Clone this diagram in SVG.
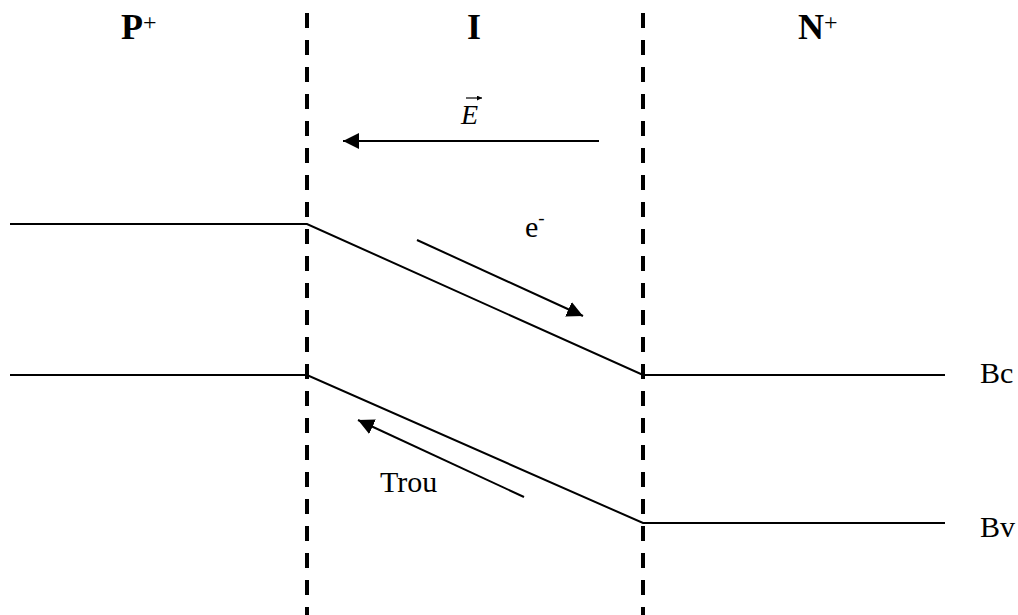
<svg xmlns="http://www.w3.org/2000/svg" width="1018" height="615" viewBox="0 0 1018 615">
<style>
.t{font-family:"Liberation Serif","Times New Roman",serif;fill:#000}
.b{font-weight:bold;font-size:36px}
.r{font-size:30px}
.ln{stroke:#000;stroke-width:2;fill:none}
.dash{stroke:#000;stroke-width:4;stroke-dasharray:15 12;fill:none}
</style>
<defs>
<marker id="ah" viewBox="0 0 16 16" refX="16" refY="8" markerWidth="16" markerHeight="16" markerUnits="userSpaceOnUse" orient="auto">
<path d="M0,0 L16,8 L0,16 Z" fill="#000"/>
</marker>
<marker id="sa" viewBox="0 0 6 6" refX="6" refY="3" markerWidth="5" markerHeight="5" markerUnits="userSpaceOnUse" orient="auto">
<path d="M0,0 L6,3 L0,6 Z" fill="#000"/>
</marker>
</defs>
<g id="regions">
<line class="dash" x1="307" y1="13" x2="307" y2="615"/>
<line class="dash" x1="643" y1="13" x2="643" y2="615"/>
</g>
<g id="label-P"><text class="t b" x="121" y="39">P<tspan font-size="24" font-weight="normal" dy="-9">+</tspan></text></g>
<g id="label-I"><text class="t b" x="467" y="39">I</text></g>
<g id="label-N"><text class="t b" x="798" y="39">N<tspan font-size="24" font-weight="normal" dy="-9">+</tspan></text></g>
<g id="bands">
<polyline class="ln" points="10,224 307,224 643,375 945,375"/>
<polyline class="ln" points="10,375 307,375 643,523 945,523"/>
</g>
<g id="label-Bc"><text class="t r" x="980" y="383">Bc</text></g>
<g id="label-Bv"><text class="t r" x="980" y="537">Bv</text></g>
<g id="connectors">
<line class="ln" x1="599" y1="141" x2="343" y2="141" marker-end="url(#ah)"/>
<line class="ln" x1="417" y1="240" x2="583" y2="316" marker-end="url(#ah)"/>
<line class="ln" x1="524" y1="497" x2="358" y2="420" marker-end="url(#ah)"/>
</g>
<g id="label-E">
<text class="t" x="461" y="124" font-size="28" font-style="italic">E</text>
<line x1="466" y1="98" x2="482" y2="98" stroke="#000" stroke-width="1.2" marker-end="url(#sa)"/>
</g>
<g id="label-e"><text class="t r" x="525" y="237">e<tspan font-size="19" dy="-13">-</tspan></text></g>
<g id="label-trou"><text class="t r" x="380" y="492">Trou</text></g>
</svg>
